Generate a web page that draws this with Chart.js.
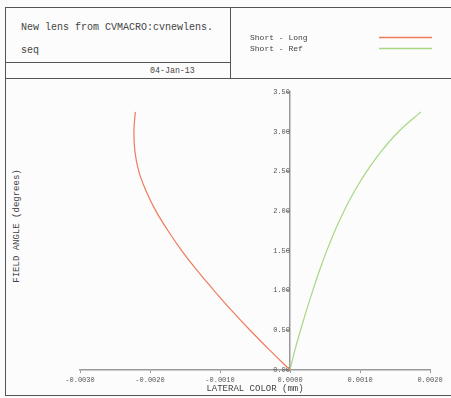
<!DOCTYPE html>
<html>
<head>
<meta charset="utf-8">
<script src="https://cdn.jsdelivr.net/npm/chart.js@4"></script>
<style>
  body { margin: 0; background: #fcfcfc; width: 451px; height: 398px; overflow: hidden; position: relative; font-family: "Liberation Mono", "Courier New", monospace; color: #444; }
  .linha { position: absolute; background: #555; }
  .txt { position: absolute; white-space: nowrap; line-height: 1; }
  #grafico { position: absolute; left: 0; top: 0; }
</style>
</head>
<body>
<div class="linha" style="left:5px; top:7px; width:460px; height:1px;"></div>
<div class="linha" style="left:5px; top:7px; width:1px; height:389px;"></div>
<div class="linha" style="left:5px; top:395px; width:460px; height:1px;"></div>
<div class="linha" style="left:230px; top:7px; width:1px; height:71px;"></div>
<div class="linha" style="left:5px; top:62px; width:225px; height:1px;"></div>
<div class="linha" style="left:5px; top:78px; width:460px; height:1px;"></div>

<div class="txt" style="left:21px; top:23px; font-size:10px;">New lens from CVMACRO:cvnewlens.</div>
<div class="txt" style="left:21px; top:46px; font-size:10px;">seq</div>
<div class="txt" style="left:150px; top:67px; font-size:8.3px;">04-Jan-13</div>
<div class="txt" style="left:17px; top:226px; font-size:9px; transform: translate(-50%, -50%) rotate(-90deg);">FIELD ANGLE (degrees)</div>

<canvas id="grafico" width="451" height="398"></canvas>

<script>
const ctxGrafico = document.getElementById("grafico");

// angulo de campo (graus)
const campos = [0, 0.25, 0.5, 0.75, 1.0, 1.25, 1.5, 1.75, 2.0, 2.25, 2.5, 2.75, 3.0, 3.25];

// cor lateral (mm)
const curtoLongo = [0, -0.00029, -0.00057, -0.000835, -0.001085, -0.001325, -0.001545, -0.00174, -0.001915, -0.002055, -0.00216, -0.002215, -0.00223, -0.00221];
const curtoRef = [0, 0.00007, 0.00015, 0.000235, 0.000325, 0.00042, 0.000525, 0.00064, 0.00077, 0.00092, 0.001095, 0.0013, 0.00155, 0.00187];

const nomesSeries = ["Short - Long", "Short - Ref"];
const coresSeries = ["#f07a5c", "#a6d882"];

const corEixo = "#999999";
const corTexto = "#555555";
const fonteMono = "'Liberation Mono', 'Courier New', monospace";

function montarPontos(valores) {
  return valores.map((v, i) => ({ x: v, y: campos[i] }));
}

function criarSerie(indice, valores) {
  return {
    label: nomesSeries[indice],
    data: montarPontos(valores),
    showLine: true,
    fill: false,
    tension: 0.4,
    borderWidth: 1.2,
    pointRadius: 0,
    borderColor: coresSeries[indice],
    backgroundColor: coresSeries[indice]
  };
}

// legenda do cabecalho (texto a esquerda, amostra de linha a direita)
const legendaCabecalho = {
  id: "legendaCabecalho",
  afterDraw(chart) {
    const ctx = chart.ctx;
    ctx.save();
    ctx.font = "8px " + fonteMono;
    ctx.textBaseline = "middle";
    ctx.textAlign = "left";
    chart.data.datasets.forEach((ds, i) => {
      const y = 37.5 + i * 11;
      ctx.fillStyle = "#444444";
      ctx.fillText(ds.label, 250, y);
      ctx.strokeStyle = ds.borderColor;
      ctx.lineWidth = 1.3;
      ctx.beginPath();
      ctx.moveTo(379, y);
      ctx.lineTo(432, y);
      ctx.stroke();
    });
    ctx.restore();
  }
};

const chartCor = new Chart(ctxGrafico, {
  type: "scatter",
  data: {
    datasets: [criarSerie(0, curtoLongo), criarSerie(1, curtoRef)]
  },
  plugins: [legendaCabecalho],
  options: {
    responsive: false,
    animation: false,
    layout: {
      padding: { left: 80, right: 21, top: 92, bottom: 4 }
    },
    plugins: {
      legend: { display: false },
      tooltip: { enabled: false }
    },
    scales: {
      x: {
        type: "linear",
        position: "bottom",
        min: -0.003,
        max: 0.002,
        afterFit: (s) => { s.height = 24; },
        border: { color: corEixo, width: 1.5 },
        grid: { drawOnChartArea: false, tickLength: 3, color: corEixo },
        ticks: {
          stepSize: 0.001,
          padding: 3,
          color: corTexto,
          font: { family: fonteMono, size: 7 },
          callback: (v) => Number(v).toFixed(4)
        },
        title: {
          display: true,
          text: "LATERAL COLOR (mm)",
          color: "#444444",
          padding: 0,
          font: { family: fonteMono, size: 9 }
        }
      },
      y: {
        type: "linear",
        position: { x: 0 },
        min: 0,
        max: 3.5,
        border: { color: corEixo, width: 1.5 },
        grid: { drawOnChartArea: false, tickLength: 3, color: corEixo },
        ticks: {
          stepSize: 0.5,
          padding: 2,
          color: corTexto,
          font: { family: fonteMono, size: 7 },
          callback: (v) => Number(v).toFixed(2)
        }
      }
    }
  }
});
</script>
</body>
</html>
